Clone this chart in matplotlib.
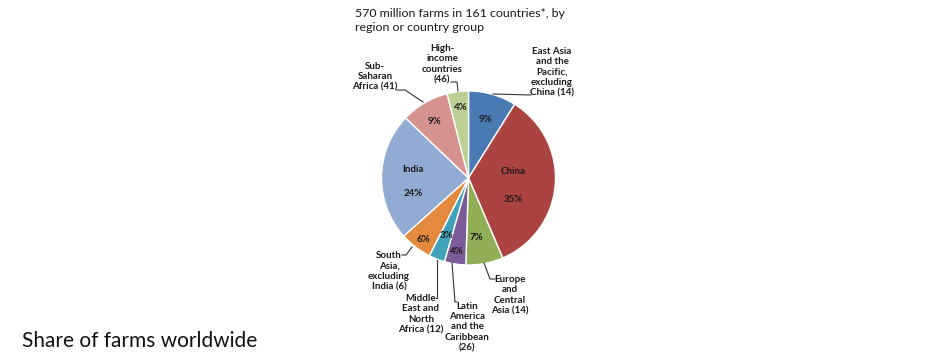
import matplotlib
matplotlib.use("Agg")
import matplotlib.pyplot as plt

# share of farms by region, percent (clockwise from 12 o'clock)
regions = ["East Asia and the Pacific, excluding China", "China",
           "Europe and Central Asia", "Latin America and the Caribbean",
           "Middle East and North Africa", "South Asia, excluding India",
           "India", "Sub-Saharan Africa", "High-income countries"]
shares = [9, 35, 7, 4, 3, 6, 24, 9, 4]
n_countries = [14, 1, 14, 26, 12, 6, 1, 41, 46]
colors = ["#4a7ab4", "#ab4441", "#8fae55", "#7a5c98", "#3fa2b8",
          "#e38a3f", "#91abd3", "#d59290", "#bccf94"]

W, H = 940, 362
fig = plt.figure(figsize=(W / 100, H / 100), dpi=100)
ax = fig.add_axes([0, 0, 1, 1])
ax.set_xlim(0, W)
ax.set_ylim(0, H)
ax.set_aspect("equal")
ax.axis("off")


def Y(y):
    # pixel row (from top) -> axes y
    return H - y


cx, cy, r = 468.5, 178, 87
ax.pie(shares, colors=colors, startangle=90, counterclock=False,
       center=(cx, Y(cy)), radius=r,
       wedgeprops=dict(edgecolor="white", linewidth=1.0))
ax.set_xlim(0, W)
ax.set_ylim(0, H)

fnt = ["Liberation Sans Narrow", "Lato"]
tc = "#1a1a1a"
fs = 7.0

# title
ax.text(355, Y(8), "570 million farms in 161 countries*, by\nregion or country group",
        fontsize=8.9, family="Lato", color=tc, va="top", ha="left", linespacing=1.3)

# labels inside the pie
inner = [(485, 120, "9%"), (513, 172, "China"), (513, 199, "35%"),
         (476, 238, "7%"), (457, 252, "4%"), (446, 235, "3%"),
         (423, 239, "6%"), (413, 170, "India"), (413, 194, "24%"),
         (434, 122, "9%"), (461, 107, "4%")]
for x, y, s in inner:
    ax.text(x, Y(y), s, fontsize=fs, family=fnt, color=tc,
            ha="center", va="center", fontweight="bold")

# outside labels with leader lines
outside = [
    (552, 72, "East Asia\nand the\nPacific,\nexcluding\nChina (14)",
     [(531, 95), (493, 94)]),
    (442, 64, "High-\nincome\ncountries\n(46)",
     [(451, 82), (457, 82), (458, 91)]),
    (375, 77, "Sub-\nSaharan\nAfrica (41)",
     [(397, 90), (405, 90), (423, 102)]),
    (389, 271, "South\nAsia,\nexcluding\nIndia (6)",
     [(402, 255), (406, 255), (412, 247)]),
    (421, 314, "Middle\nEast and\nNorth\nAfrica (12)",
     [(436, 298), (437, 298), (437, 260)]),
    (467, 327, "Latin\nAmerica\nand the\nCaribbean\n(26)",
     [(457, 302), (455, 302), (452, 263)]),
    (510, 295, "Europe\nand\nCentral\nAsia (14)",
     [(495, 279), (490, 279), (484, 263)]),
]
for x, y, s, pts in outside:
    ax.text(x, Y(y), s, fontsize=fs, family=fnt, color=tc, fontweight="bold",
            ha="center", va="center", linespacing=1.2)
    ax.plot([p[0] for p in pts], [Y(p[1]) for p in pts], color="#333333", lw=0.8)

# caption
ax.text(22, Y(341), "Share of farms worldwide", fontsize=15, family="Lato",
        color="#111111", ha="left", va="center")

fig.savefig("out.png", dpi=100)
